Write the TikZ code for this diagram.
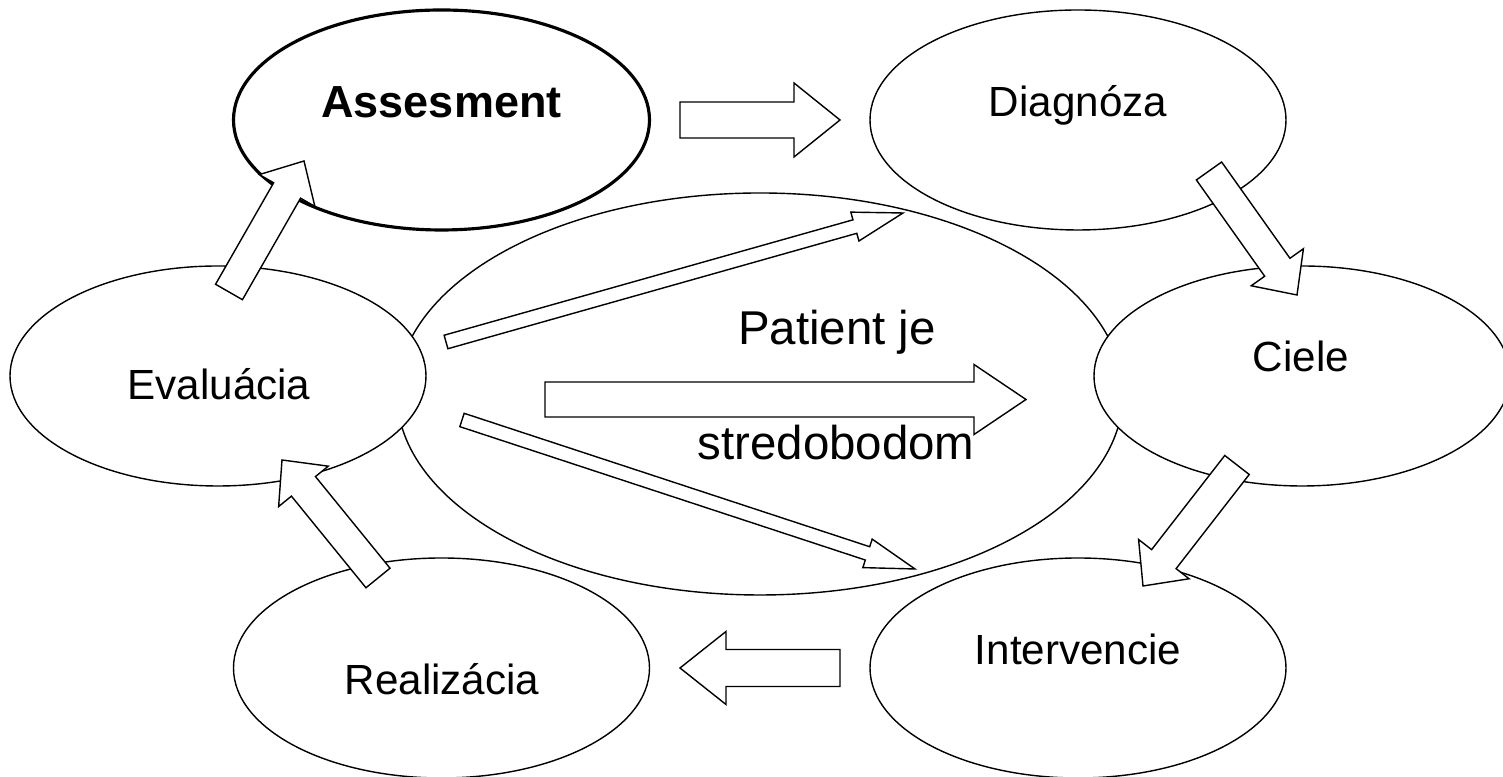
\documentclass[tikz,border=0pt]{standalone}
\usepackage{fontspec}
\setmainfont{Liberation Sans}
\usetikzlibrary{shapes.geometric,calc}

% hollow block arrow: tail, tip, half shaft, half head, head length
\newcommand{\blockarrow}[5]{%
  \draw[blk] let \p1=($(#2)-(#1)$), \n1={atan2(\y1,\x1)} in
    ($(#1)+({\n1+90}:#3)$) -- ($(#2)+({\n1+180}:#5)+({\n1+90}:#3)$)
    -- ($(#2)+({\n1+180}:#5)+({\n1+90}:#4)$) -- (#2)
    -- ($(#2)+({\n1+180}:#5)+({\n1-90}:#4)$) -- ($(#2)+({\n1+180}:#5)+({\n1-90}:#3)$)
    -- ($(#1)+({\n1-90}:#3)$) -- cycle;}

\begin{document}
\begin{tikzpicture}[
    bubble/.style={ellipse, draw, fill=white, line width=0.4pt, inner sep=0pt,
                   minimum width=4.16cm, minimum height=2.2cm},
    blk/.style={draw, fill=white, line width=0.4pt, line join=miter},
    lbl/.style={anchor=base, inner sep=0pt, font=\fontsize{12}{14}\selectfont},
    big/.style={anchor=base, inner sep=0pt, font=\fontsize{13.5}{16}\selectfont}]
  \useasboundingbox (0,0) rectangle (15.03,7.77);

  % patient in the middle
  \node[ellipse, draw, line width=0.4pt, minimum width=7.26cm, minimum height=4.02cm] (patient) at (7.60,3.83) {};

  % the cycle
  \node[bubble, line width=0.9pt] (assess) at (4.415,6.57) {};
  \node[bubble] (diag) at (10.78,6.57) {};
  \node[bubble] (ciele) at (13.02,4.01) {};
  \node[bubble] (interv) at (10.78,1.09) {};
  \node[bubble] (real) at (4.415,1.09) {};
  \node[bubble] (eval) at (2.18,4.01) {};

  % arrow ends
  \coordinate (assessout) at (6.80,6.57);
  \coordinate (diagin) at (8.40,6.57);
  \coordinate (diagout) at (12.09,6.06);
  \coordinate (cielein) at (12.97,4.82);
  \coordinate (cieleout) at (12.37,3.12);
  \coordinate (intervin) at (11.43,1.91);
  \coordinate (intervout) at (8.40,1.09);
  \coordinate (realin) at (6.80,1.09);
  \coordinate (realout) at (3.78,1.99);
  \coordinate (evalin) at (2.82,3.17);
  \coordinate (evalout) at (2.29,4.85);
  \coordinate (assessin) at (3.04,6.16);
  \coordinate (midtail) at (5.45,3.775);
  \coordinate (midtip) at (10.26,3.775);
  \coordinate (uptail) at (4.46,4.35);
  \coordinate (uptip) at (9.03,5.64);
  \coordinate (downtail) at (4.62,3.57);
  \coordinate (downtip) at (9.15,2.08);

  \blockarrow{assessout}{diagin}{0.18}{0.37}{0.46}
  \blockarrow{diagout}{cielein}{0.155}{0.32}{0.34}
  \blockarrow{cieleout}{intervin}{0.155}{0.32}{0.34}
  \blockarrow{intervout}{realin}{0.185}{0.365}{0.46}
  \blockarrow{realout}{evalin}{0.155}{0.32}{0.34}
  \blockarrow{evalout}{assessin}{0.155}{0.32}{0.34}
  \blockarrow{midtail}{midtip}{0.175}{0.35}{0.52}
  \blockarrow{uptail}{uptip}{0.07}{0.15}{0.50}
  \blockarrow{downtail}{downtip}{0.07}{0.15}{0.50}

  % texts
  \node[lbl, font=\fontsize{12.8}{15}\selectfont\bfseries] at (4.415,6.59) {Assesment};
  \node[lbl] at (10.78,6.60) {Diagnóza};
  \node[lbl] at (13.01,4.05) {Ciele};
  \node[lbl] at (10.78,1.12) {Intervencie};
  \node[lbl] at (4.42,0.82) {Realizácia};
  \node[lbl] at (2.19,3.77) {Evaluácia};
  \node[big] at (8.37,4.32) {Patient je};
  \node[big] at (8.36,3.17) {stredobodom};
\end{tikzpicture}
\end{document}
